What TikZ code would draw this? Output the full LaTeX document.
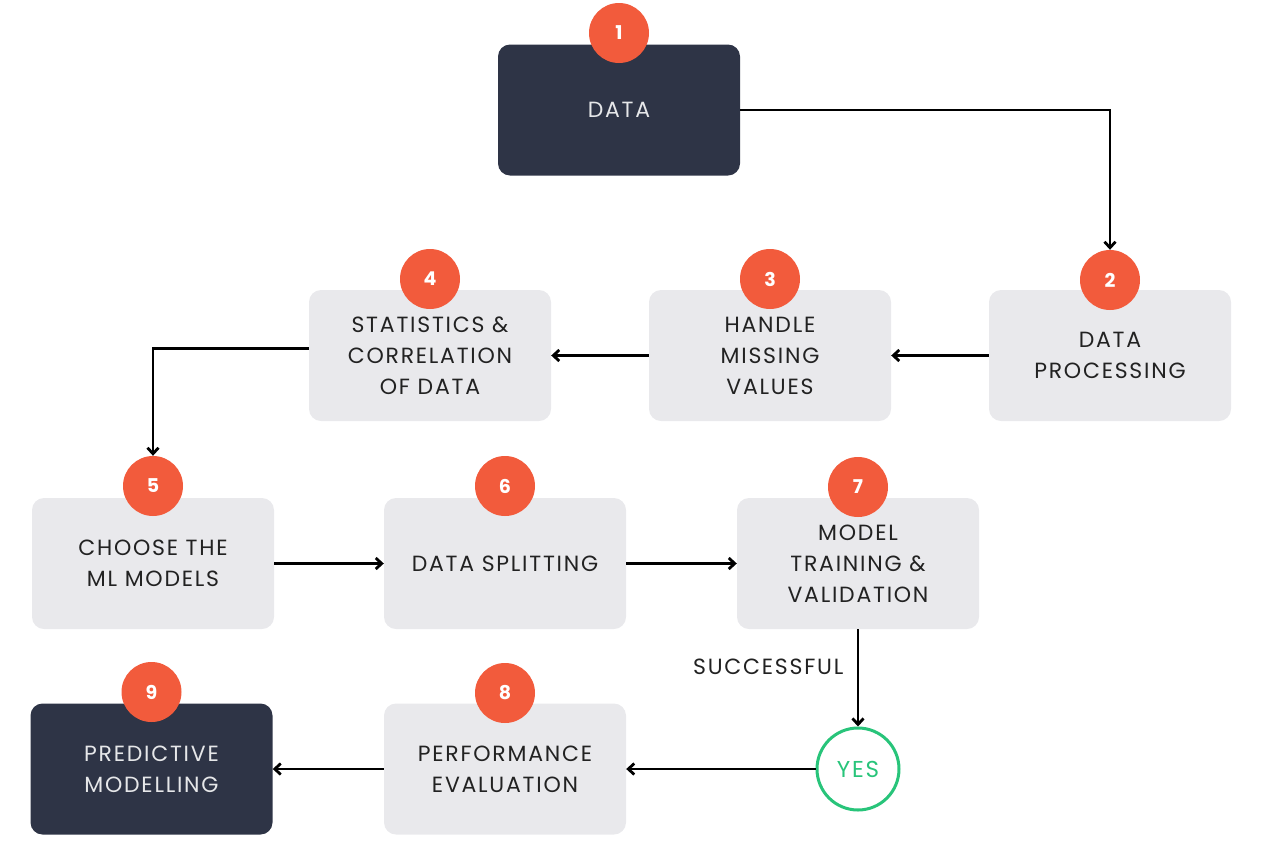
\documentclass[tikz,border=0pt]{standalone}
\usepackage{fontspec}
\setmainfont{Poppins}
\newfontfamily\stepfont[LetterSpace=8]{Poppins}
\usetikzlibrary{positioning,arrows.meta}
\definecolor{stepnavy}{RGB}{46,52,70}
\definecolor{stepgray}{RGB}{233,233,236}
\definecolor{steporange}{RGB}{242,91,60}
\definecolor{stepgreen}{RGB}{40,196,122}
\definecolor{steptext}{RGB}{34,34,34}

\begin{document}
\begin{tikzpicture}[x=1pt, y=-1pt,
        box/.style={rectangle, rounded corners=12pt, minimum width=242pt, minimum height=131pt,
            fill=stepgray, text=steptext, align=center, font=\stepfont\fontsize{22}{31}\selectfont},
        darkbox/.style={box, fill=stepnavy, text=white!88!stepnavy},
        num/.style={circle, minimum size=60pt, inner sep=0pt, fill=steporange, text=white,
            font=\fontsize{19}{19}\selectfont\bfseries},
        flow/.style={line width=2.8pt, -{Straight Barb[length=6pt, width=11pt]}}]
        \useasboundingbox (0,0) rectangle (1283,844);

        % Row 1
        \node[darkbox] (data) at (619,110) {DATA};
        \node[num] (n1) at (619,33) {1};

        % Row 2
        \node[box] (proc) at (1110,355.5) {DATA\\PROCESSING};
        \node[num] (n2) at (1110,280) {2};
        \node[box] (missing) at (770,355.5) {HANDLE\\MISSING\\VALUES};
        \node[num] (n3) at (770,279) {3};
        \node[box] (stats) at (430,355.5) {STATISTICS \&\\CORRELATION\\OF DATA};
        \node[num] (n4) at (430,279) {4};

        % Row 3
        \node[box] (choose) at (153,563.5) {CHOOSE THE\\ML MODELS};
        \node[num] (n5) at (153,486) {5};
        \node[box] (split) at (505,563.5) {DATA SPLITTING};
        \node[num] (n6) at (505,486) {6};
        \node[box] (train) at (858,563.5) {MODEL\\TRAINING \&\\VALIDATION};
        \node[num] (n7) at (858,487) {7};

        % Row 4
        \node[circle, draw=stepgreen, line width=3pt, minimum size=82pt, text=stepgreen,
            font=\stepfont\fontsize{23}{23}\selectfont] (yes) at (858,769) {YES};
        \node[box] (perf) at (505,769) {PERFORMANCE\\EVALUATION};
        \node[num] (n8) at (505,693) {8};
        \node[darkbox] (pred) at (151.5,769) {PREDICTIVE\\MODELLING};
        \node[num] (n9) at (151.5,692) {9};

        % Arrows
        \draw[flow] (data.east) -| (n2.north);
        \draw[flow] (proc.west) -- (missing.east);
        \draw[flow] (missing.west) -- (stats.east);
        \draw[flow] ([yshift=7pt]stats.west) -| (n5.north);
        \draw[flow] (choose.east) -- (split.west);
        \draw[flow] (split.east) -- (train.west);
        \draw[flow] (train.south) -- node[pos=0.39, left=10pt, text=steptext,
            font=\stepfont\fontsize{22}{22}\selectfont] {SUCCESSFUL} (yes.north);
        \draw[flow] (yes.west) -- (perf.east);
        \draw[flow] (perf.west) -- (pred.east);
    \end{tikzpicture}
\end{document}
